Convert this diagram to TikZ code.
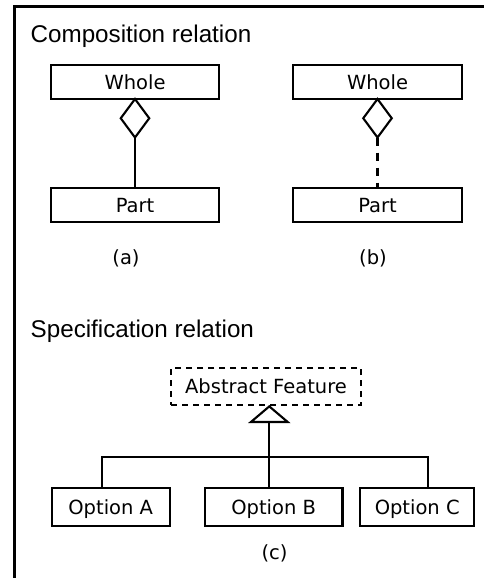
\documentclass[tikz,border=0pt]{standalone}
\usepackage{fontspec}
\setmainfont{DejaVu Sans}
\newfontfamily\headfont{Liberation Sans}
\usetikzlibrary{arrows.meta,shapes.geometric}
\begin{document}
\begin{tikzpicture}[x=1pt,y=-1pt,
  line join=miter,
  heading/.style={anchor=base west, inner sep=0pt, font=\headfont\fontsize{24.2}{29}\selectfont},
  box/.style={draw, line width=2.1pt, minimum height=34pt, inner sep=0pt, outer sep=0pt,
    font=\fontsize{19.5}{23}\selectfont, text height=14.2pt, text depth=0pt},
  abstractbox/.style={box, dash pattern=on 6pt off 5pt, minimum height=37pt},
  optbox/.style={box, minimum height=38pt},
  tag/.style={inner sep=0pt, font=\fontsize{19.5}{23}\selectfont},
  agg/.style={diamond, draw, line width=2.1pt, minimum width=28.5pt, minimum height=38.5pt,
    inner sep=0pt, outer sep=0pt, anchor=north},
  link/.style={line width=2.1pt},
  dashlink/.style={line width=2.1pt, dash pattern=on 8pt off 7pt},
  spec/.style={line width=2.1pt, -{Triangle[open, length=18pt, width=42pt]}}
]
\useasboundingbox (0,0) rectangle (484,578);

% frame (top and left edges)
\draw[line width=3pt] (484,6.5) -- (14.5,6.5) -- (14.5,578);

% composition relation
\node[heading] (h1) at (30.5,42.3) {Composition relation};

\node[box, minimum width=168pt] (wholeA) at (135,82) {Whole};
\node[box, minimum width=168pt] (partA) at (135,205) {Part};
\node[agg] (dA) at (wholeA.south) {};
\draw[link] (dA.south) -- (partA.north);
\node[tag] (la) at (126,258) {(a)};

\node[box, minimum width=169pt] (wholeB) at (377.5,82) {Whole};
\node[box, minimum width=169pt] (partB) at (377.5,205) {Part};
\node[agg] (dB) at (wholeB.south) {};
\draw[dashlink] (dB.south) -- (partB.north);
\node[tag] (lb) at (373,258) {(b)};

% specification relation
\node[heading] (h2) at (30.5,337.3) {Specification relation};

\node[abstractbox, minimum width=190pt] (abs) at (266,386.5) {Abstract Feature};

\node[optbox, minimum width=118pt] (optA) at (110.7,507) {Option A};
\node[optbox, minimum width=137.5pt] (optB) at (273.7,507) {Option B};
\node[optbox, minimum width=114pt] (optC) at (417.2,507) {Option C};

\coordinate (hub) at (269.3,456.7);
\coordinate (dropA) at (101.7,456.7);
\coordinate (dropC) at (427.7,456.7);

\draw[link] (optA.north -| dropA) -- (dropA) -- (dropC) -- (optC.north -| dropC);
\draw[link] (optB.north -| hub) -- (hub);
\draw[spec] (hub) -- (abs.south -| hub);

\node[tag] (lc) at (274.5,553) {(c)};
\end{tikzpicture}
\end{document}
